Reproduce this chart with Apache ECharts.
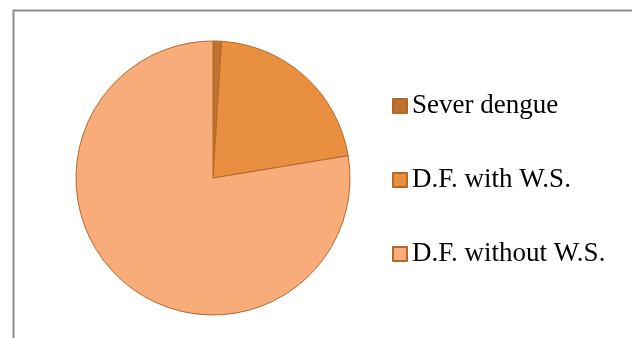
<!DOCTYPE html>
<html>
<head>
<meta charset="utf-8">
<script src="https://cdn.jsdelivr.net/npm/echarts@6/dist/echarts.min.js"></script>
<style>html,body{margin:0;padding:0;background:#fff;}#c{width:632px;height:338px;}</style>
</head>
<body>
<div id="c"></div>
<script>
const categories = ['Sever dengue', 'D.F. with W.S.', 'D.F. without W.S.'];
const values = [1.0, 21.4, 77.6];
const colors = ['#C0722F', '#E8903F', '#F7AC7A'];

const chart = echarts.init(document.getElementById('c'), null, {renderer: 'canvas'});
chart.setOption({
  animation: false,
  backgroundColor: '#ffffff',
  graphic: [{
    type: 'polyline',
    shape: {points: [[13.5, 340], [13.5, 10.5], [640, 10.5]]},
    style: {stroke: '#8c8c8c', lineWidth: 2, fill: null}
  }],
  legend: {
    orient: 'vertical',
    left: 387,
    top: 87,
    itemWidth: 14,
    itemHeight: 14,
    itemGap: 46,
    icon: 'rect',
    data: categories,
    textStyle: {fontFamily: 'Liberation Serif', fontSize: 27, color: '#000', lineHeight: 28}
  },
  series: [{
    type: 'pie',
    center: [213, 178],
    radius: 137,
    startAngle: 90,
    clockwise: true,
    label: {show: false},
    labelLine: {show: false},
    emphasis: {disabled: true},
    itemStyle: {borderColor: '#B5682A', borderWidth: 1},
    data: categories.map((n, i) => ({name: n, value: values[i], itemStyle: {color: colors[i]}}))
  }]
});
</script>
</body>
</html>
